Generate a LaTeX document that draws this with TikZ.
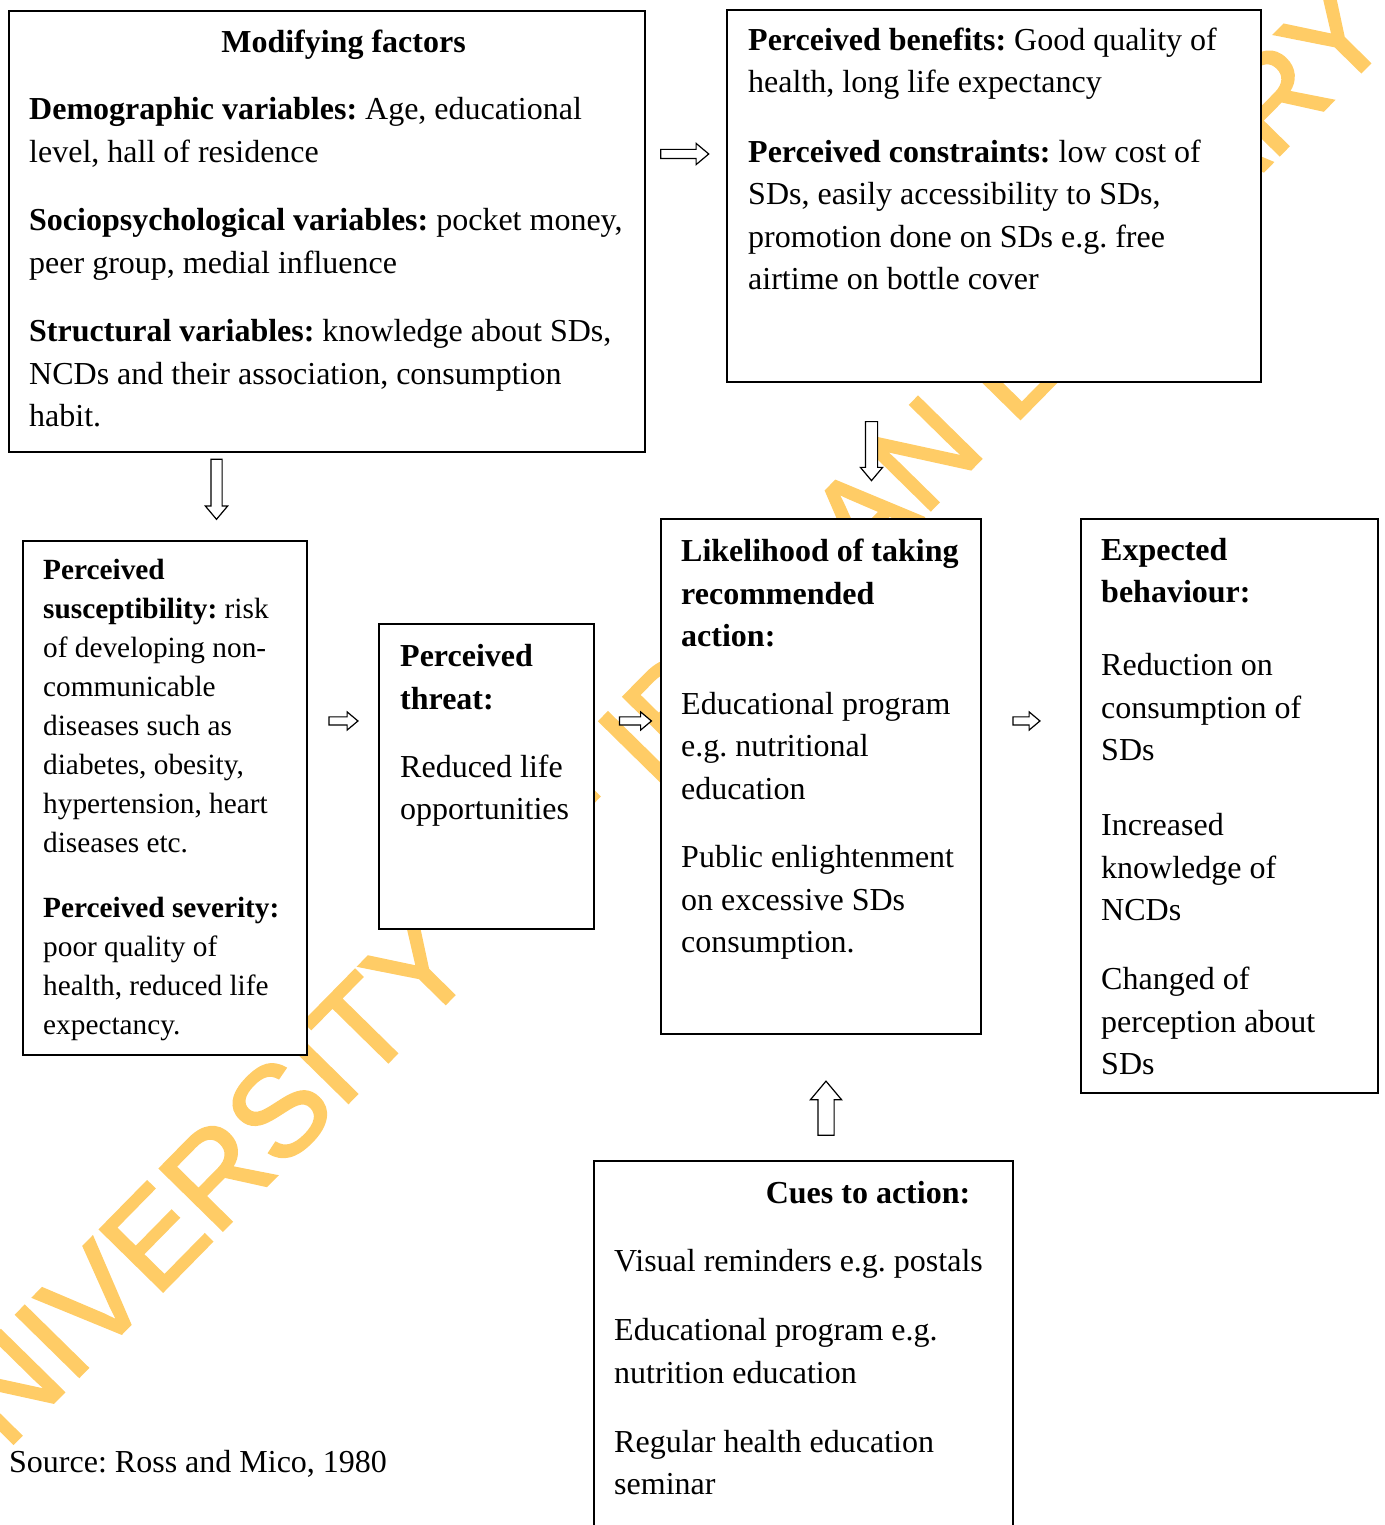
\documentclass[tikz,border=0pt]{standalone}
\usepackage{fontspec}
\setmainfont{Liberation Serif}
\newfontfamily\wmfont[FakeBold=2]{Liberation Sans}
\usetikzlibrary{shapes.arrows}
\definecolor{wmyellow}{RGB}{255,204,102}
\frenchspacing
\begin{document}
\begin{tikzpicture}[x=1pt,y=1pt,
    box/.style={draw,rectangle,line width=1.5pt,fill=white,inner sep=0pt},
    txt/.style={anchor=base west,align=left,inner sep=0pt,font=\fontsize{32}{42.5}\selectfont},
    hd/.style={anchor=base,inner sep=0pt,font=\fontsize{32}{42.5}\selectfont\bfseries},
    blk/.style={single arrow,draw,line width=1.2pt,fill=white,inner xsep=0pt,single arrow tip angle=80}]
  \useasboundingbox (0,0) rectangle (1384,1525);
		%%
  \node (Watermark) at (637,779) [rotate=45.5,inner sep=0pt,text=wmyellow,font=\wmfont\fontsize{128}{128}\selectfont] {UNIVERSITY OF IBADAN LIBRARY};
		%%
  \node (Modifying) at (327pt,1293.5pt) [box,minimum width=636pt,minimum height=441pt] {};
  \node (Benefits) at (994pt,1329pt) [box,minimum width=534pt,minimum height=372pt] {};
  \node (Susceptibility) at (165pt,727pt) [box,minimum width=284pt,minimum height=514pt] {};
  \node (Threat) at (486.5pt,748.5pt) [box,minimum width=215pt,minimum height=305pt] {};
  \node (Likelihood) at (821pt,748.5pt) [box,minimum width=320pt,minimum height=515pt] {};
  \node (Expected) at (1229.5pt,719pt) [box,minimum width=297pt,minimum height=574pt] {};
  \node (Cues) at (803.5pt,172pt) [box,minimum width=419pt,minimum height=384pt] {};
		%% texts, placed at the baseline of their last line
  \node (ModifyingHead) at (343.5pt,1472pt) [hd] {Modifying factors};
  \node (ModifyingText) at (29pt,1098pt) [txt] {\textbf{Demographic variables:} Age, educational\\
    level, hall of residence\\[26pt]
    \textbf{Sociopsychological variables:} pocket money,\\
    peer group, medial influence\\[26pt]
    \textbf{Structural variables:} knowledge about SDs,\\
    NCDs and their association, consumption\\
    habit.};
  \node (BenefitsText) at (748pt,1235pt) [txt] {\textbf{Perceived benefits:} Good quality of\\
    health, long life expectancy\\[27pt]
    \textbf{Perceived constraints:} low cost of\\
    SDs, easily accessibility to SDs,\\
    promotion done on SDs e.g. free\\
    airtime on bottle cover};
  \node (SusceptibilityText) at (43pt,490pt) [txt,font=\fontsize{29.3}{39}\selectfont] {\textbf{Perceived}\\
    \textbf{susceptibility:} risk\\
    of developing non-\\
    communicable\\
    diseases such as\\
    diabetes, obesity,\\
    hypertension, heart\\
    diseases etc.\\[26pt]
    \textbf{Perceived severity:}\\
    poor quality of\\
    health, reduced life\\
    expectancy.};
  \node (ThreatText) at (400pt,705pt) [txt] {\textbf{Perceived}\\
    \textbf{threat:}\\[25.5pt]
    Reduced life\\
    opportunities};
  \node (LikelihoodText) at (681pt,572pt) [txt] {\textbf{Likelihood of taking}\\
    \textbf{recommended}\\
    \textbf{action:}\\[25pt]
    Educational program\\
    e.g. nutritional\\
    education\\[26pt]
    Public enlightenment\\
    on excessive SDs\\
    consumption.};
  \node (ExpectedText) at (1101pt,450pt) [txt] {\textbf{Expected}\\
    \textbf{behaviour:}\\[30.5pt]
    Reduction on\\
    consumption of\\
    SDs\\[32.5pt]
    Increased\\
    knowledge of\\
    NCDs\\[26.5pt]
    Changed of\\
    perception about\\
    SDs};
  \node (CuesHead) at (868pt,321pt) [hd] {Cues to action:};
  \node (CuesText) at (614pt,30pt) [txt] {Visual reminders e.g. postals\\[26.5pt]
    Educational program e.g.\\
    nutrition education\\[26.5pt]
    Regular health education\\
    seminar};
  \node (Source) at (9pt,52pt) [txt] {Source: Ross and Mico, 1980};
		%
  \node (A1) at (216.5pt,1039pt) [blk,rotate=-90,minimum height=60pt,inner ysep=5pt,single arrow head extend=5.5pt] {};
  \node (A2) at (682pt,1371pt) [blk,minimum height=48pt,inner ysep=4pt,single arrow head extend=6pt] {};
  \node (A3) at (871.5pt,1077.5pt) [blk,rotate=-90,minimum height=59pt,inner ysep=5.5pt,single arrow head extend=5pt] {};
  \node (A4) at (341pt,804pt) [blk,minimum height=29pt,inner ysep=3.5pt,single arrow head extend=5pt] {};
  \node (A5) at (633pt,804pt) [blk,minimum height=32pt,inner ysep=3.5pt,single arrow head extend=5pt] {};
  \node (A6) at (1024pt,804pt) [blk,minimum height=27pt,inner ysep=3.5pt,single arrow head extend=5pt] {};
  \node (A7) at (826pt,412pt) [blk,rotate=90,minimum height=54pt,inner ysep=7.5pt,single arrow head extend=7.5pt] {};
		%
\end{tikzpicture}
\end{document}
